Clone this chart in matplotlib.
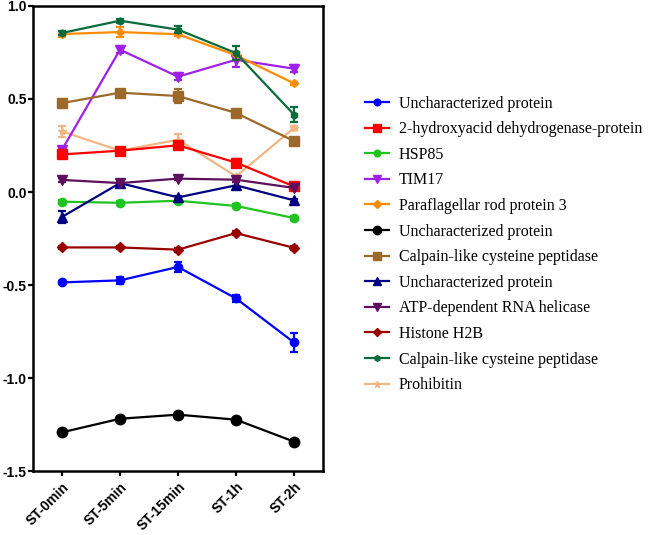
import numpy as np
import matplotlib
matplotlib.use('Agg')
import matplotlib.pyplot as plt

plt.rcParams['axes.unicode_minus'] = False

# ── Data ─────────────────────────────────────────────────────────────────
timepoints = ['ST-0min', 'ST-5min', 'ST-15min', 'ST-1h', 'ST-2h']

labels = ['Uncharacterized protein', '2-hydroxyacid dehydrogenase-protein', 'HSP85',
          'TIM17', 'Paraflagellar rod protein 3', 'Uncharacterized protein',
          'Calpain-like cysteine peptidase', 'Uncharacterized protein',
          'ATP-dependent RNA helicase', 'Histone H2B',
          'Calpain-like cysteine peptidase', 'Prohibitin']

unchar_a    = [-0.486, -0.475, -0.403, -0.572, -0.809]
hydroxy     = [0.202, 0.222, 0.251, 0.158, 0.030]
hsp85       = [-0.052, -0.058, -0.047, -0.075, -0.140]
tim17       = [0.227, 0.765, 0.620, 0.711, 0.663]
pfr3        = [0.849, 0.860, 0.848, 0.735, 0.584]
unchar_b    = [-1.292, -1.219, -1.197, -1.224, -1.342]
calpain_a   = [0.478, 0.534, 0.516, 0.425, 0.274]
unchar_c    = [-0.134, 0.048, -0.029, 0.036, -0.045]
atp_hel     = [0.065, 0.048, 0.072, 0.066, 0.022]
h2b         = [-0.298, -0.298, -0.310, -0.221, -0.300]
calpain_b   = [0.855, 0.921, 0.873, 0.747, 0.416]
prohibitin  = [0.326, 0.222, 0.281, 0.084, 0.344]

err_unchar_a   = [0.005, 0.02, 0.025, 0.02, 0.05]
err_hydroxy    = [0.01, 0.01, 0.01, 0.02, 0.01]
err_hsp85      = [0.01, 0.01, 0.01, 0.01, 0.01]
err_tim17      = [0.01, 0.02, 0.02, 0.04, 0.02]
err_pfr3       = [0.015, 0.025, 0.01, 0.02, 0.01]
err_unchar_b   = [0.01, 0.01, 0.01, 0.01, 0.01]
err_calpain_a  = [0.01, 0.01, 0.04, 0.01, 0.01]
err_unchar_c   = [0.03, 0.01, 0.01, 0.02, 0.01]
err_atp_hel    = [0.01, 0.01, 0.01, 0.01, 0.01]
err_h2b        = [0.01, 0.01, 0.01, 0.01, 0.01]
err_calpain_b  = [0.01, 0.01, 0.02, 0.04, 0.04]
err_prohibitin = [0.03, 0.01, 0.03, 0.01, 0.01]

series = [unchar_a, hydroxy, hsp85, tim17, pfr3, unchar_b,
          calpain_a, unchar_c, atp_hel, h2b, calpain_b, prohibitin]
errors = [err_unchar_a, err_hydroxy, err_hsp85, err_tim17, err_pfr3, err_unchar_b,
          err_calpain_a, err_unchar_c, err_atp_hel, err_h2b, err_calpain_b, err_prohibitin]

# ── Styles ───────────────────────────────────────────────────────────────
colors  = ['#0000FF', '#FF0000', '#1FC41F', '#A020E8', '#FF8C00', '#000000',
           '#9B6A2A', '#000080', '#5E0F5E', '#990000', '#0B6B3A', '#F2B584']
markers = ['o', 's', 'o', 'v', 'D', 'o', 's', '^', 'v', 'D', 'h', '*']
msizes  = [6, 6.5, 6, 6.5, 4.5, 7.5, 7.5, 7, 7, 5.5, 5, 6]
zorders = [3, 4, 3, 3, 3, 3, 3, 4, 4, 3, 4, 2]

fig = plt.figure(figsize=(6.49, 5.35), dpi=100)
ax = fig.add_axes([0.0508, 0.1196, 0.4469, 0.8692])

x = np.arange(len(timepoints))
handles = []
for y, e, c, m, ms, z, lab in zip(series, errors, colors, markers, msizes, zorders, labels):
    eb = ax.errorbar(x, y, yerr=e, color=c, marker=m, markersize=ms, linewidth=1.6,
                     elinewidth=1.6, capsize=2.6, capthick=1.6, markeredgecolor=c,
                     zorder=z, label=lab)
    handles.append(eb)

ax.set_xlim(-0.5, 4.5)
ax.set_ylim(-1.5, 1.0)
ax.set_yticks([-1.5, -1.0, -0.5, 0.0, 0.5, 1.0])
ax.set_xticks(x)
ax.set_xticklabels(timepoints, rotation=45, ha='right', rotation_mode='anchor',
                   fontsize=10, fontweight='bold', family='Liberation Sans')
for t in ax.get_yticklabels():
    t.set_fontsize(10)
    t.set_fontweight('bold')
    t.set_family('Liberation Sans')
ax.tick_params(direction='out', width=1.6, length=3.8, pad=0.8)
ax.tick_params(axis='x', pad=2.5)
for sp in ax.spines.values():
    sp.set_linewidth(1.8)

fig.legend(handles=[h.lines[0] for h in handles], labels=labels,
           loc='upper left', bbox_to_anchor=(0.541, 0.848), frameon=False,
           prop={'family': 'Liberation Serif', 'size': 11.5},
           handlelength=1.5, handletextpad=0.6, labelspacing=0.6,
           markerscale=0.8)

fig.savefig('out.png', dpi=100)
